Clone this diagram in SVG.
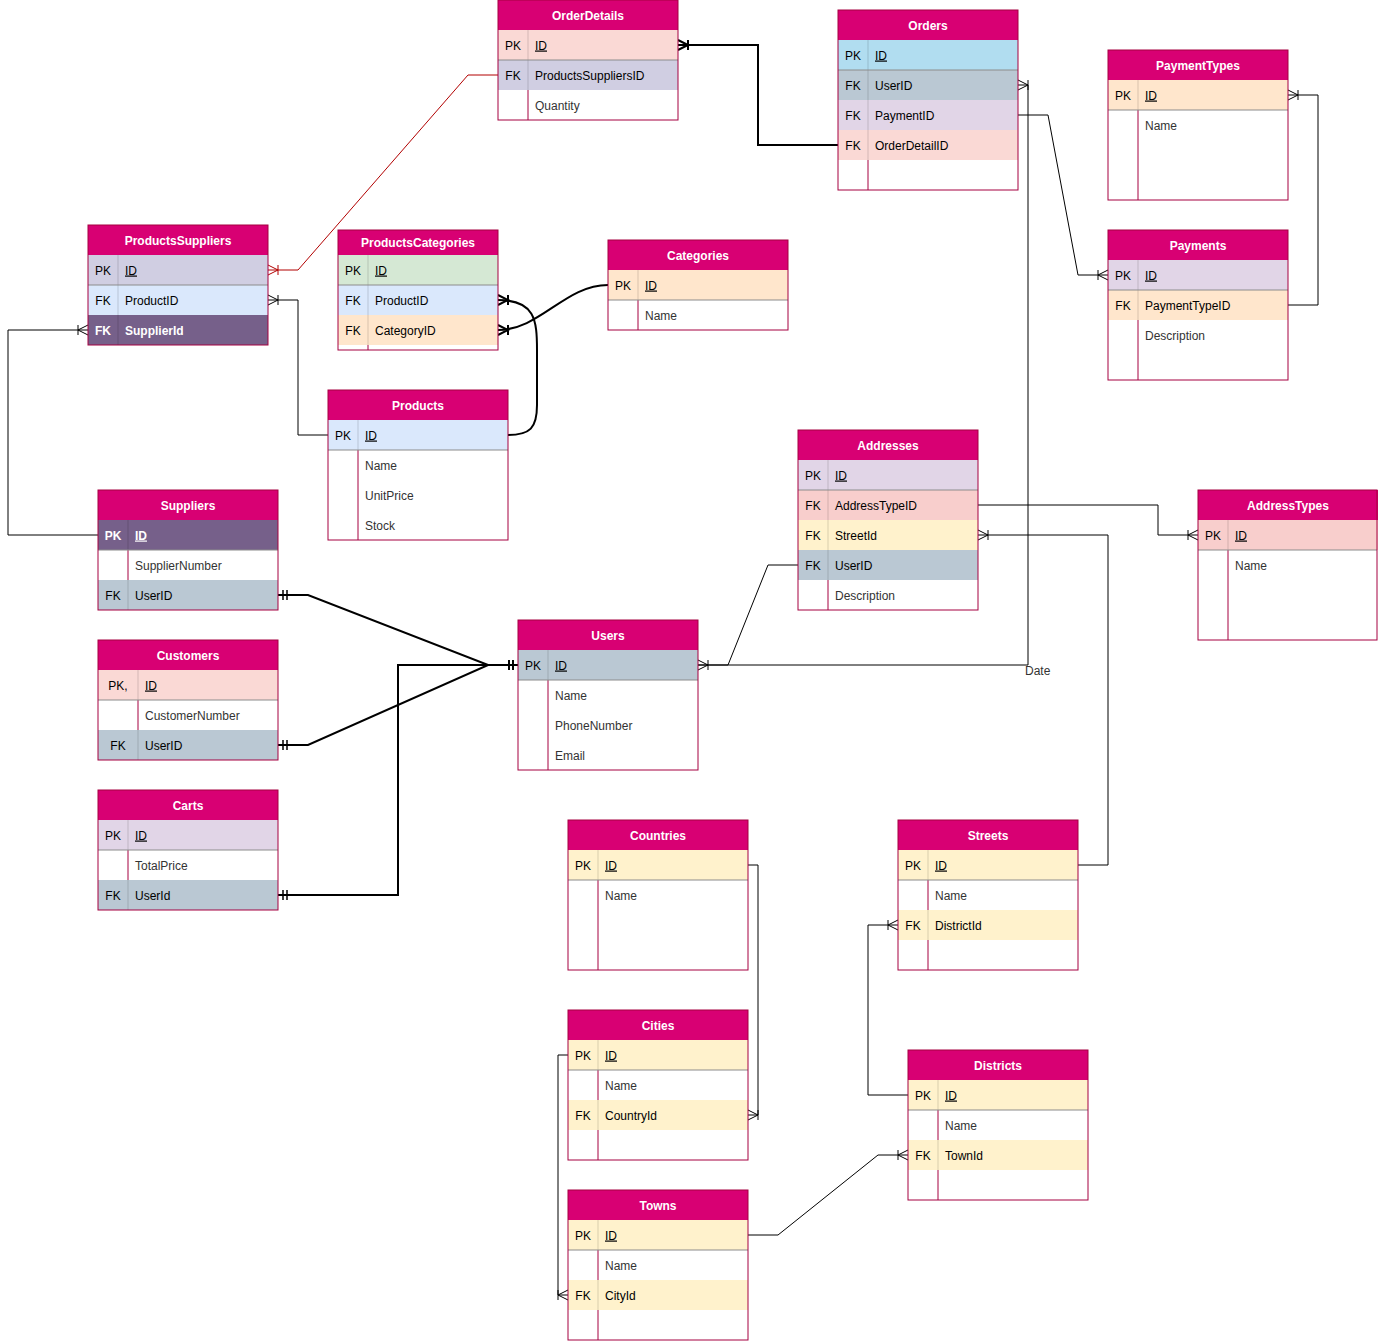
<svg xmlns="http://www.w3.org/2000/svg" width="1378" height="1341" viewBox="0 0 1378 1341">
<style>
text{font-family:"Liberation Sans",Arial,Helvetica,sans-serif;font-size:12px}
.bg{fill:#fff}
.hd{fill:#d80073}
.bd{fill:none;stroke:#a50040;stroke-width:1}
.dv{stroke:#a50040;stroke-width:1}
.dvc{stroke:#000;stroke-opacity:0.15;stroke-width:1}
.pkl{stroke:#8c8c8c;stroke-width:1}
.ht{fill:#fff;font-weight:bold;text-anchor:middle}
.k{fill:#000;text-anchor:middle}
.f{fill:#000}
.a{fill:#333}
.u{text-decoration:underline}
.w{fill:#fff;font-weight:bold}
.c{fill:none;stroke:#000;stroke-width:1}
.ct{fill:none;stroke:#000;stroke-width:2}
.cr{fill:none;stroke:#b20000;stroke-width:1}
.lbl{fill:#333}
</style>
<defs>
<marker id="many" markerUnits="userSpaceOnUse" markerWidth="30" markerHeight="30" viewBox="-15 -15 30 30" refX="0" refY="0" orient="auto-start-reverse" overflow="visible">
<path d="M0,-5 L-10,0 L0,5 M-10,-5 V5" fill="none" stroke="#000" stroke-width="1"/>
</marker>
<marker id="manyT" markerUnits="userSpaceOnUse" markerWidth="30" markerHeight="30" viewBox="-15 -15 30 30" refX="0" refY="0" orient="auto-start-reverse" overflow="visible">
<path d="M0,-5 L-10,0 L0,5 M-10,-5 V5" fill="none" stroke="#000" stroke-width="2"/>
</marker>
<marker id="manyR" markerUnits="userSpaceOnUse" markerWidth="30" markerHeight="30" viewBox="-15 -15 30 30" refX="0" refY="0" orient="auto-start-reverse" overflow="visible">
<path d="M0,-5 L-10,0 L0,5 M-10,-5 V5" fill="none" stroke="#b20000" stroke-width="1"/>
</marker>
<marker id="one2" markerUnits="userSpaceOnUse" markerWidth="30" markerHeight="30" viewBox="-15 -15 30 30" refX="0" refY="0" orient="auto-start-reverse" overflow="visible">
<path d="M-5,-5 V5 M-9,-5 V5" fill="none" stroke="#000" stroke-width="1.5"/>
</marker>
</defs>
<rect x="0" y="0" width="1378" height="1341" fill="#fff"/>

<g id="connectors">
<path class="ct" d="M678,45 H758 V145 H838" marker-start="url(#manyT)"/>
<path class="cr" d="M268,270 H298 L468,75 H498" marker-start="url(#manyR)"/>
<path class="c" d="M268,300 H298 V435 H328" marker-start="url(#many)"/>
<path class="c" d="M88,330 H8 V535 H98" marker-start="url(#many)"/>
<path class="ct" d="M498,300 C535,300 537,320 537,350 L537,405 C537,428 530,435 508,435" marker-start="url(#manyT)"/>
<path class="ct" d="M498,330 C540,330 565,285 608,285" marker-start="url(#manyT)"/>
<path class="c" d="M1108,275 H1078 L1048,115 H1018" marker-start="url(#many)"/>
<path class="c" d="M1018,85 H1028 V665 H698" marker-start="url(#many)" marker-end="url(#many)"/>
<path class="c" d="M798,565 H768 L728,665 H698"/>
<path class="c" d="M1198,535 H1158 V505 H978" marker-start="url(#many)"/>
<path class="c" d="M978,535 H1108 V865 H1078" marker-start="url(#many)"/>
<path class="c" d="M898,925 H868 V1095 H908" marker-start="url(#many)"/>
<path class="c" d="M908,1155 H878 L778,1235 H748" marker-start="url(#many)"/>
<path class="c" d="M748,1115 H758 V865 H748" marker-start="url(#many)"/>
<path class="c" d="M568,1295 H558 V1055 H568" marker-start="url(#many)"/>
<path class="c" d="M1288,95 H1318 V305 H1288" marker-start="url(#many)"/>
<path class="ct" d="M278,595 H308 L488,665 H518" marker-start="url(#one2)" marker-end="url(#one2)"/>
<path class="ct" d="M278,745 H308 L488,665 H518" marker-start="url(#one2)" marker-end="url(#one2)"/>
<path class="ct" d="M278,895 H398 V665 H518" marker-start="url(#one2)" marker-end="url(#one2)"/>
<text class="lbl" x="1025" y="675">Date</text>
</g>

<g id="OrderDetails">
<rect class="bg" x="498" y="0" width="180" height="120"/>
<rect class="hd" x="498" y="0" width="180" height="30"/>
<rect fill="#fad9d5" x="498" y="30" width="180" height="30"/>
<rect fill="#d0cee2" x="498" y="60" width="180" height="30"/>
<line class="dvc" x1="528" y1="30" x2="528" y2="90"/>
<line class="dv" x1="528" y1="90" x2="528" y2="120"/>
<line class="pkl" x1="498" y1="60" x2="678" y2="60"/>
<rect class="bd" x="498" y="0" width="180" height="120"/>
<text class="ht" x="588" y="19.5">OrderDetails</text>
<text class="k" x="513" y="49.5">PK</text><text class="f u" x="535" y="49.5">ID</text>
<text class="k" x="513" y="79.5">FK</text><text class="f" x="535" y="79.5">ProductsSuppliersID</text>
<text class="a" x="535" y="109.5">Quantity</text>
</g>

<g id="Orders">
<rect class="bg" x="838" y="10" width="180" height="180"/>
<rect class="hd" x="838" y="10" width="180" height="30"/>
<rect fill="#b1ddf0" x="838" y="40" width="180" height="30"/>
<rect fill="#bac8d3" x="838" y="70" width="180" height="30"/>
<rect fill="#e1d5e7" x="838" y="100" width="180" height="30"/>
<rect fill="#fad9d5" x="838" y="130" width="180" height="30"/>
<line class="dvc" x1="868" y1="40" x2="868" y2="160"/>
<line class="dv" x1="868" y1="160" x2="868" y2="190"/>
<line class="pkl" x1="838" y1="70" x2="1018" y2="70"/>
<rect class="bd" x="838" y="10" width="180" height="180"/>
<text class="ht" x="928" y="29.5">Orders</text>
<text class="k" x="853" y="59.5">PK</text><text class="f u" x="875" y="59.5">ID</text>
<text class="k" x="853" y="89.5">FK</text><text class="f" x="875" y="89.5">UserID</text>
<text class="k" x="853" y="119.5">FK</text><text class="f" x="875" y="119.5">PaymentID</text>
<text class="k" x="853" y="149.5">FK</text><text class="f" x="875" y="149.5">OrderDetailID</text>
</g>

<g id="PaymentTypes">
<rect class="bg" x="1108" y="50" width="180" height="150"/>
<rect class="hd" x="1108" y="50" width="180" height="30"/>
<rect fill="#ffe6cc" x="1108" y="80" width="180" height="30"/>
<line class="dvc" x1="1138" y1="80" x2="1138" y2="110"/>
<line class="dv" x1="1138" y1="110" x2="1138" y2="200"/>
<line class="pkl" x1="1108" y1="110" x2="1288" y2="110"/>
<rect class="bd" x="1108" y="50" width="180" height="150"/>
<text class="ht" x="1198" y="69.5">PaymentTypes</text>
<text class="k" x="1123" y="99.5">PK</text><text class="f u" x="1145" y="99.5">ID</text>
<text class="a" x="1145" y="129.5">Name</text>
</g>

<g id="Payments">
<rect class="bg" x="1108" y="230" width="180" height="150"/>
<rect class="hd" x="1108" y="230" width="180" height="30"/>
<rect fill="#e1d5e7" x="1108" y="260" width="180" height="30"/>
<rect fill="#ffe6cc" x="1108" y="290" width="180" height="30"/>
<line class="dvc" x1="1138" y1="260" x2="1138" y2="320"/>
<line class="dv" x1="1138" y1="320" x2="1138" y2="380"/>
<line class="pkl" x1="1108" y1="290" x2="1288" y2="290"/>
<rect class="bd" x="1108" y="230" width="180" height="150"/>
<text class="ht" x="1198" y="249.5">Payments</text>
<text class="k" x="1123" y="279.5">PK</text><text class="f u" x="1145" y="279.5">ID</text>
<text class="k" x="1123" y="309.5">FK</text><text class="f" x="1145" y="309.5">PaymentTypeID</text>
<text class="a" x="1145" y="339.5">Description</text>
</g>

<g id="ProductsSuppliers">
<rect class="bg" x="88" y="225" width="180" height="120"/>
<rect class="hd" x="88" y="225" width="180" height="30"/>
<rect fill="#d0cee2" x="88" y="255" width="180" height="30"/>
<rect fill="#dae8fc" x="88" y="285" width="180" height="30"/>
<rect fill="#76608a" x="88" y="315" width="180" height="30"/>
<line class="dvc" x1="118" y1="255" x2="118" y2="345"/>
<line class="pkl" x1="88" y1="285" x2="268" y2="285"/>
<rect class="bd" x="88" y="225" width="180" height="120"/>
<text class="ht" x="178" y="244.5">ProductsSuppliers</text>
<text class="k" x="103" y="274.5">PK</text><text class="f u" x="125" y="274.5">ID</text>
<text class="k" x="103" y="304.5">FK</text><text class="f" x="125" y="304.5">ProductID</text>
<text class="k w" x="103" y="334.5">FK</text><text class="w" x="125" y="334.5">SupplierId</text>
</g>

<g id="ProductsCategories">
<rect class="bg" x="338" y="230" width="160" height="120"/>
<rect class="hd" x="338" y="230" width="160" height="25"/>
<rect fill="#d5e8d4" x="338" y="255" width="160" height="30"/>
<rect fill="#dae8fc" x="338" y="285" width="160" height="30"/>
<rect fill="#ffe6cc" x="338" y="315" width="160" height="30"/>
<line class="dvc" x1="368" y1="255" x2="368" y2="345"/>
<line class="dv" x1="368" y1="345" x2="368" y2="350"/>
<line class="pkl" x1="338" y1="285" x2="498" y2="285"/>
<rect class="bd" x="338" y="230" width="160" height="120"/>
<text class="ht" x="418" y="247">ProductsCategories</text>
<text class="k" x="353" y="274.5">PK</text><text class="f u" x="375" y="274.5">ID</text>
<text class="k" x="353" y="304.5">FK</text><text class="f" x="375" y="304.5">ProductID</text>
<text class="k" x="353" y="334.5">FK</text><text class="f" x="375" y="334.5">CategoryID</text>
</g>

<g id="Categories">
<rect class="bg" x="608" y="240" width="180" height="90"/>
<rect class="hd" x="608" y="240" width="180" height="30"/>
<rect fill="#ffe6cc" x="608" y="270" width="180" height="30"/>
<line class="dvc" x1="638" y1="270" x2="638" y2="300"/>
<line class="dv" x1="638" y1="300" x2="638" y2="330"/>
<line class="pkl" x1="608" y1="300" x2="788" y2="300"/>
<rect class="bd" x="608" y="240" width="180" height="90"/>
<text class="ht" x="698" y="259.5">Categories</text>
<text class="k" x="623" y="289.5">PK</text><text class="f u" x="645" y="289.5">ID</text>
<text class="a" x="645" y="319.5">Name</text>
</g>

<g id="Products">
<rect class="bg" x="328" y="390" width="180" height="150"/>
<rect class="hd" x="328" y="390" width="180" height="30"/>
<rect fill="#dae8fc" x="328" y="420" width="180" height="30"/>
<line class="dvc" x1="358" y1="420" x2="358" y2="450"/>
<line class="dv" x1="358" y1="450" x2="358" y2="540"/>
<line class="pkl" x1="328" y1="450" x2="508" y2="450"/>
<rect class="bd" x="328" y="390" width="180" height="150"/>
<text class="ht" x="418" y="409.5">Products</text>
<text class="k" x="343" y="439.5">PK</text><text class="f u" x="365" y="439.5">ID</text>
<text class="a" x="365" y="469.5">Name</text>
<text class="a" x="365" y="499.5">UnitPrice</text>
<text class="a" x="365" y="529.5">Stock</text>
</g>

<g id="Addresses">
<rect class="bg" x="798" y="430" width="180" height="180"/>
<rect class="hd" x="798" y="430" width="180" height="30"/>
<rect fill="#e1d5e7" x="798" y="460" width="180" height="30"/>
<rect fill="#f8cecc" x="798" y="490" width="180" height="30"/>
<rect fill="#fff2cc" x="798" y="520" width="180" height="30"/>
<rect fill="#bac8d3" x="798" y="550" width="180" height="30"/>
<line class="dvc" x1="828" y1="460" x2="828" y2="580"/>
<line class="dv" x1="828" y1="580" x2="828" y2="610"/>
<line class="pkl" x1="798" y1="490" x2="978" y2="490"/>
<rect class="bd" x="798" y="430" width="180" height="180"/>
<text class="ht" x="888" y="449.5">Addresses</text>
<text class="k" x="813" y="479.5">PK</text><text class="f u" x="835" y="479.5">ID</text>
<text class="k" x="813" y="509.5">FK</text><text class="f" x="835" y="509.5">AddressTypeID</text>
<text class="k" x="813" y="539.5">FK</text><text class="f" x="835" y="539.5">StreetId</text>
<text class="k" x="813" y="569.5">FK</text><text class="f" x="835" y="569.5">UserID</text>
<text class="a" x="835" y="599.5">Description</text>
</g>

<g id="AddressTypes">
<rect class="bg" x="1198" y="490" width="180" height="150"/>
<rect class="hd" x="1198" y="490" width="180" height="30"/>
<rect fill="#f8cecc" x="1198" y="520" width="180" height="30"/>
<line class="dvc" x1="1228" y1="520" x2="1228" y2="550"/>
<line class="dv" x1="1228" y1="550" x2="1228" y2="640"/>
<line class="pkl" x1="1198" y1="550" x2="1377" y2="550"/>
<rect class="bd" x="1198" y="490" width="179" height="150"/>
<text class="ht" x="1288" y="509.5">AddressTypes</text>
<text class="k" x="1213" y="539.5">PK</text><text class="f u" x="1235" y="539.5">ID</text>
<text class="a" x="1235" y="569.5">Name</text>
</g>

<g id="Suppliers">
<rect class="bg" x="98" y="490" width="180" height="120"/>
<rect class="hd" x="98" y="490" width="180" height="30"/>
<rect fill="#76608a" x="98" y="520" width="180" height="30"/>
<rect fill="#bac8d3" x="98" y="580" width="180" height="30"/>
<line class="dvc" x1="128" y1="520" x2="128" y2="550"/>
<line class="dv" x1="128" y1="550" x2="128" y2="580"/>
<line class="dvc" x1="128" y1="580" x2="128" y2="610"/>
<line class="pkl" x1="98" y1="550" x2="278" y2="550"/>
<rect class="bd" x="98" y="490" width="180" height="120"/>
<text class="ht" x="188" y="509.5">Suppliers</text>
<text class="k w" x="113" y="539.5">PK</text><text class="w u" x="135" y="539.5">ID</text>
<text class="a" x="135" y="569.5">SupplierNumber</text>
<text class="k" x="113" y="599.5">FK</text><text class="f" x="135" y="599.5">UserID</text>
</g>

<g id="Customers">
<rect class="bg" x="98" y="640" width="180" height="120"/>
<rect class="hd" x="98" y="640" width="180" height="30"/>
<rect fill="#fad9d5" x="98" y="670" width="180" height="30"/>
<rect fill="#bac8d3" x="98" y="730" width="180" height="30"/>
<line class="dvc" x1="138" y1="670" x2="138" y2="700"/>
<line class="dv" x1="138" y1="700" x2="138" y2="730"/>
<line class="dvc" x1="138" y1="730" x2="138" y2="760"/>
<line class="pkl" x1="98" y1="700" x2="278" y2="700"/>
<rect class="bd" x="98" y="640" width="180" height="120"/>
<text class="ht" x="188" y="659.5">Customers</text>
<text class="k" x="118" y="689.5">PK,</text><text class="f u" x="145" y="689.5">ID</text>
<text class="a" x="145" y="719.5">CustomerNumber</text>
<text class="k" x="118" y="749.5">FK</text><text class="f" x="145" y="749.5">UserID</text>
</g>

<g id="Carts">
<rect class="bg" x="98" y="790" width="180" height="120"/>
<rect class="hd" x="98" y="790" width="180" height="30"/>
<rect fill="#e1d5e7" x="98" y="820" width="180" height="30"/>
<rect fill="#bac8d3" x="98" y="880" width="180" height="30"/>
<line class="dvc" x1="128" y1="820" x2="128" y2="850"/>
<line class="dv" x1="128" y1="850" x2="128" y2="880"/>
<line class="dvc" x1="128" y1="880" x2="128" y2="910"/>
<line class="pkl" x1="98" y1="850" x2="278" y2="850"/>
<rect class="bd" x="98" y="790" width="180" height="120"/>
<text class="ht" x="188" y="809.5">Carts</text>
<text class="k" x="113" y="839.5">PK</text><text class="f u" x="135" y="839.5">ID</text>
<text class="a" x="135" y="869.5">TotalPrice</text>
<text class="k" x="113" y="899.5">FK</text><text class="f" x="135" y="899.5">UserId</text>
</g>

<g id="Users">
<rect class="bg" x="518" y="620" width="180" height="150"/>
<rect class="hd" x="518" y="620" width="180" height="30"/>
<rect fill="#bac8d3" x="518" y="650" width="180" height="30"/>
<line class="dvc" x1="548" y1="650" x2="548" y2="680"/>
<line class="dv" x1="548" y1="680" x2="548" y2="770"/>
<line class="pkl" x1="518" y1="680" x2="698" y2="680"/>
<rect class="bd" x="518" y="620" width="180" height="150"/>
<text class="ht" x="608" y="639.5">Users</text>
<text class="k" x="533" y="669.5">PK</text><text class="f u" x="555" y="669.5">ID</text>
<text class="a" x="555" y="699.5">Name</text>
<text class="a" x="555" y="729.5">PhoneNumber</text>
<text class="a" x="555" y="759.5">Email</text>
</g>

<g id="Countries">
<rect class="bg" x="568" y="820" width="180" height="150"/>
<rect class="hd" x="568" y="820" width="180" height="30"/>
<rect fill="#fff2cc" x="568" y="850" width="180" height="30"/>
<line class="dvc" x1="598" y1="850" x2="598" y2="880"/>
<line class="dv" x1="598" y1="880" x2="598" y2="970"/>
<line class="pkl" x1="568" y1="880" x2="748" y2="880"/>
<rect class="bd" x="568" y="820" width="180" height="150"/>
<text class="ht" x="658" y="839.5">Countries</text>
<text class="k" x="583" y="869.5">PK</text><text class="f u" x="605" y="869.5">ID</text>
<text class="a" x="605" y="899.5">Name</text>
</g>

<g id="Cities">
<rect class="bg" x="568" y="1010" width="180" height="150"/>
<rect class="hd" x="568" y="1010" width="180" height="30"/>
<rect fill="#fff2cc" x="568" y="1040" width="180" height="30"/>
<rect fill="#fff2cc" x="568" y="1100" width="180" height="30"/>
<line class="dvc" x1="598" y1="1040" x2="598" y2="1070"/>
<line class="dv" x1="598" y1="1070" x2="598" y2="1100"/>
<line class="dvc" x1="598" y1="1100" x2="598" y2="1130"/>
<line class="dv" x1="598" y1="1130" x2="598" y2="1160"/>
<line class="pkl" x1="568" y1="1070" x2="748" y2="1070"/>
<rect class="bd" x="568" y="1010" width="180" height="150"/>
<text class="ht" x="658" y="1029.5">Cities</text>
<text class="k" x="583" y="1059.5">PK</text><text class="f u" x="605" y="1059.5">ID</text>
<text class="a" x="605" y="1089.5">Name</text>
<text class="k" x="583" y="1119.5">FK</text><text class="f" x="605" y="1119.5">CountryId</text>
</g>

<g id="Towns">
<rect class="bg" x="568" y="1190" width="180" height="150"/>
<rect class="hd" x="568" y="1190" width="180" height="30"/>
<rect fill="#fff2cc" x="568" y="1220" width="180" height="30"/>
<rect fill="#fff2cc" x="568" y="1280" width="180" height="30"/>
<line class="dvc" x1="598" y1="1220" x2="598" y2="1250"/>
<line class="dv" x1="598" y1="1250" x2="598" y2="1280"/>
<line class="dvc" x1="598" y1="1280" x2="598" y2="1310"/>
<line class="dv" x1="598" y1="1310" x2="598" y2="1340"/>
<line class="pkl" x1="568" y1="1250" x2="748" y2="1250"/>
<rect class="bd" x="568" y="1190" width="180" height="150"/>
<text class="ht" x="658" y="1209.5">Towns</text>
<text class="k" x="583" y="1239.5">PK</text><text class="f u" x="605" y="1239.5">ID</text>
<text class="a" x="605" y="1269.5">Name</text>
<text class="k" x="583" y="1299.5">FK</text><text class="f" x="605" y="1299.5">CityId</text>
</g>

<g id="Streets">
<rect class="bg" x="898" y="820" width="180" height="150"/>
<rect class="hd" x="898" y="820" width="180" height="30"/>
<rect fill="#fff2cc" x="898" y="850" width="180" height="30"/>
<rect fill="#fff2cc" x="898" y="910" width="180" height="30"/>
<line class="dvc" x1="928" y1="850" x2="928" y2="880"/>
<line class="dv" x1="928" y1="880" x2="928" y2="910"/>
<line class="dvc" x1="928" y1="910" x2="928" y2="940"/>
<line class="dv" x1="928" y1="940" x2="928" y2="970"/>
<line class="pkl" x1="898" y1="880" x2="1078" y2="880"/>
<rect class="bd" x="898" y="820" width="180" height="150"/>
<text class="ht" x="988" y="839.5">Streets</text>
<text class="k" x="913" y="869.5">PK</text><text class="f u" x="935" y="869.5">ID</text>
<text class="a" x="935" y="899.5">Name</text>
<text class="k" x="913" y="929.5">FK</text><text class="f" x="935" y="929.5">DistrictId</text>
</g>

<g id="Districts">
<rect class="bg" x="908" y="1050" width="180" height="150"/>
<rect class="hd" x="908" y="1050" width="180" height="30"/>
<rect fill="#fff2cc" x="908" y="1080" width="180" height="30"/>
<rect fill="#fff2cc" x="908" y="1140" width="180" height="30"/>
<line class="dvc" x1="938" y1="1080" x2="938" y2="1110"/>
<line class="dv" x1="938" y1="1110" x2="938" y2="1140"/>
<line class="dvc" x1="938" y1="1140" x2="938" y2="1170"/>
<line class="dv" x1="938" y1="1170" x2="938" y2="1200"/>
<line class="pkl" x1="908" y1="1110" x2="1088" y2="1110"/>
<rect class="bd" x="908" y="1050" width="180" height="150"/>
<text class="ht" x="998" y="1069.5">Districts</text>
<text class="k" x="923" y="1099.5">PK</text><text class="f u" x="945" y="1099.5">ID</text>
<text class="a" x="945" y="1129.5">Name</text>
<text class="k" x="923" y="1159.5">FK</text><text class="f" x="945" y="1159.5">TownId</text>
</g>
</svg>
